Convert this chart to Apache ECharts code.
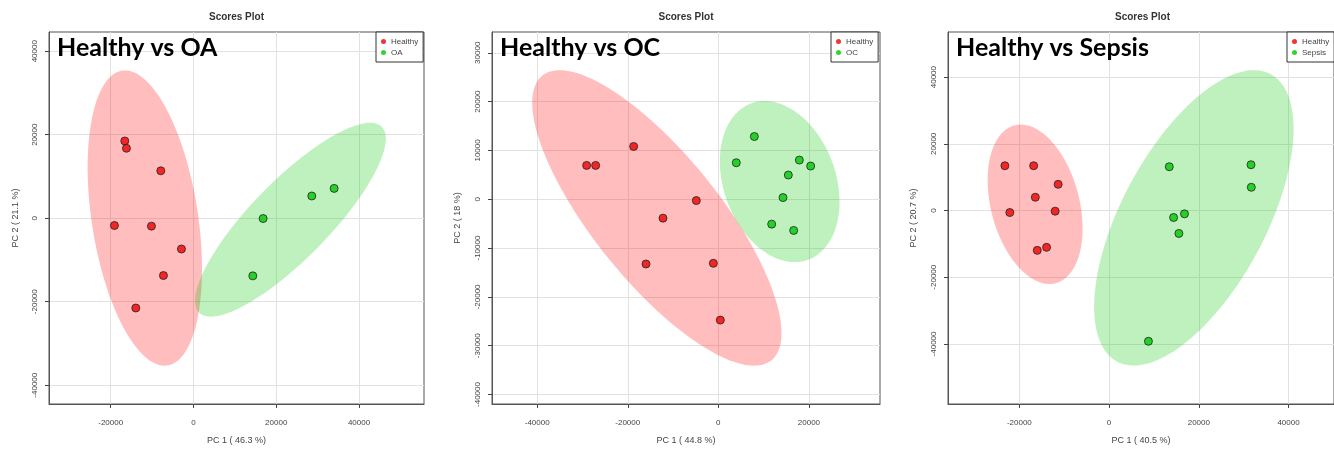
<!DOCTYPE html>
<html>
<head>
<meta charset="utf-8">
<script src="https://cdn.jsdelivr.net/npm/echarts@6/dist/echarts.min.js"></script>
<style>
html,body{margin:0;padding:0;background:#fff;}
#chart{width:1334px;height:450px;}
</style>
</head>
<body>
<div id="chart"></div>
<script>
// ---------- data ----------
const panelLabels = ['Healthy vs OA', 'Healthy vs OC', 'Healthy vs Sepsis'];
const groupNames = ['OA', 'OC', 'Sepsis'];
const plotTitle = 'Scores Plot';
const xNames = ['PC 1 ( 46.3 %)', 'PC 1 ( 44.8 %)', 'PC 1 ( 40.5 %)'];
const yNames = ['PC 2 ( 21.1 %)', 'PC 2 ( 18 %)', 'PC 2 ( 20.7 %)'];

const oaHealthy = [[-16590, 18490], [-16190, 16750], [-7890, 11350], [-19090, -1750],
  [-10150, -1900], [-2900, -7380], [-7250, -13730], [-13930, -21510]];
const oaGroup = [[16830, -80], [28590, 5320], [33990, 7140], [14340, -13810]];

const ocHealthy = [[-29080, 6930], [-27090, 6930], [-18700, 10810], [-4860, -270],
  [-12220, -3870], [-15970, -13260], [-1100, -13120], [440, -24750]];
const ocGroup = [[7950, 12850], [3970, 7480], [17890, 8020], [20390, 6800],
  [15460, 4960], [14280, 340], [11780, -5100], [16640, -6390]];

const sepsisHealthy = [[-23220, 13430], [-16810, 13430], [-11350, 7860], [-16440, 3980],
  [-22120, -600], [-12020, -200], [-16000, -11940], [-13930, -11040]];
const sepsisGroup = [[13420, 13130], [31630, 13730], [31700, 6970], [16810, -1000],
  [14380, -2090], [15560, -6870], [8770, -39200]];

// confidence ellipses: [centerX, centerY, axis1X, axis1Y, axis2X, axis2Y] (data units)
const oaHealthyEllipse = [-11750, 40, -4760, 35360, 12970, 0];
const oaGroupEllipse = [23440, -357, 19250, 23217, 12660, 0];
const ocHealthyEllipse = [-13573, -3825, -21467, 30265, 17237, 0];
const ocGroupEllipse = [13545, 3620, -3315, 16500, 12790, 0];
const sepsisHealthyEllipse = [-16486, 1865, -3194, 23905, 10085, 0];
const sepsisGroupEllipse = [18896, -2190, 13394, 44280, 17737, 0];

const xRanges = [[-34900, 55700], [-49980, 35700], [-35900, 50130]];
const yRanges = [[-44500, 44600], [-41940, 34260], [-58010, 53530]];
const xTicks = [[-20000, 0, 20000, 40000], [-40000, -20000, 0, 20000], [-20000, 0, 20000, 40000]];
const yTicks = [[-40000, -20000, 0, 20000, 40000],
  [-40000, -30000, -20000, -10000, 0, 10000, 20000, 30000],
  [-40000, -20000, 0, 20000, 40000]];

// ---------- layout / style ----------
const grids = [
  {left: 49, top: 32, width: 375, height: 374},
  {left: 492, top: 32, width: 388, height: 374},
  {left: 948, top: 32, width: 389, height: 374}
];
const legendLeft = [376, 831, 1287];
const yNameGap = [29, 30, 30];
const RED = '#f00000', GREEN = '#00c800';
const RED_FILL = 'rgba(255,0,0,0.26)', GREEN_FILL = 'rgba(0,200,0,0.25)';
const FONT = 'Liberation Sans';

const healthySets = [oaHealthy, ocHealthy, sepsisHealthy];
const groupSets = [oaGroup, ocGroup, sepsisGroup];
const healthyEll = [oaHealthyEllipse, ocHealthyEllipse, sepsisHealthyEllipse];
const groupEll = [oaGroupEllipse, ocGroupEllipse, sepsisGroupEllipse];

function ellipseRender(params, api) {
  const cx = api.value(0), cy = api.value(1), ux = api.value(2), uy = api.value(3),
    vx = api.value(4), vy = api.value(5);
  const pts = [];
  const N = 160;
  for (let i = 0; i < N; i++) {
    const t = i / N * Math.PI * 2;
    pts.push(api.coord([cx + ux * Math.cos(t) + vx * Math.sin(t), cy + uy * Math.cos(t) + vy * Math.sin(t)]));
  }
  return {type: 'polygon', shape: {points: pts}, style: {fill: api.visual('color')}};
}

const xAxis = [], yAxis = [], series = [], legend = [], graphic = [];
for (let i = 0; i < 3; i++) {
  xAxis.push({
    type: 'value', gridIndex: i, min: xRanges[i][0], max: xRanges[i][1], position: 'bottom',
    name: xNames[i], nameLocation: 'middle', nameGap: 32,
    nameTextStyle: {fontFamily: FONT, fontSize: 9, color: '#444'},
    axisLine: {show: true, onZero: false, lineStyle: {color: '#555', width: 1}},
    axisTick: {show: true, inside: false, length: 4, lineStyle: {color: '#444'}, customValues: xTicks[i]},
    axisLabel: {fontFamily: FONT, fontSize: 8, color: '#444', margin: 15, customValues: xTicks[i],
      formatter: v => String(v)},
    splitLine: {show: true, lineStyle: {color: '#e2e2e2', width: 1}}
  });
  yAxis.push({
    type: 'value', gridIndex: i, min: yRanges[i][0], max: yRanges[i][1], position: 'left',
    name: yNames[i], nameLocation: 'middle', nameGap: yNameGap[i], nameRotate: 90,
    nameTextStyle: {fontFamily: FONT, fontSize: 9, color: '#444'},
    axisLine: {show: true, onZero: false, lineStyle: {color: '#555', width: 1}},
    axisTick: {show: true, inside: false, length: 4, lineStyle: {color: '#444'}, customValues: yTicks[i]},
    axisLabel: {fontFamily: FONT, fontSize: 8, color: '#444', margin: 10, rotate: 90, customValues: yTicks[i],
      formatter: v => String(v)},
    splitLine: {show: true, lineStyle: {color: '#e2e2e2', width: 1}}
  });
  series.push({
    type: 'custom', name: 'ellipse-h-' + i, xAxisIndex: i, yAxisIndex: i, clip: true,
    renderItem: ellipseRender, data: [healthyEll[i]], itemStyle: {color: RED_FILL}, z: 1, silent: true
  });
  series.push({
    type: 'custom', name: 'ellipse-g-' + i, xAxisIndex: i, yAxisIndex: i, clip: true,
    renderItem: ellipseRender, data: [groupEll[i]], itemStyle: {color: GREEN_FILL}, z: 1, silent: true
  });
  series.push({
    type: 'scatter', name: 'Healthy', xAxisIndex: i, yAxisIndex: i, data: healthySets[i],
    symbolSize: 8, itemStyle: {color: RED, borderColor: '#222', borderWidth: 1}, z: 3
  });
  series.push({
    type: 'scatter', name: groupNames[i], xAxisIndex: i, yAxisIndex: i, data: groupSets[i],
    symbolSize: 8, itemStyle: {color: GREEN, borderColor: '#222', borderWidth: 1}, z: 3
  });
  legend.push({
    data: ['Healthy', groupNames[i]], orient: 'vertical', left: legendLeft[i], top: 32,
    padding: [5, 5, 5, 5], itemGap: 2, itemWidth: 5, itemHeight: 5, icon: 'circle',
    borderColor: '#333', borderWidth: 1, backgroundColor: '#fff',
    itemStyle: {borderWidth: 0},
    textStyle: {fontFamily: FONT, fontSize: 8, color: '#444', lineHeight: 9},
    selectedMode: false
  });
  const g = grids[i];
  graphic.push({
    type: 'text', x: g.left + g.width / 2, y: 17, z: 10,
    style: {text: plotTitle, fontFamily: FONT, fontWeight: 'bold', fontSize: 10, fill: '#333',
      textAlign: 'center', textVerticalAlign: 'middle'}
  });
  graphic.push({
    type: 'text', x: g.left + 8, y: 48, z: 10,
    style: {text: panelLabels[i], fontFamily: 'Lato', fontWeight: 'bold', fontSize: 25, fill: '#000',
      textAlign: 'left', textVerticalAlign: 'middle'}
  });
}

const chart = echarts.init(document.getElementById('chart'), null, {renderer: 'canvas'});
chart.setOption({
  animation: false,
  backgroundColor: '#fff',
  grid: grids.map(g => Object.assign({show: true, borderColor: '#555', borderWidth: 1, backgroundColor: 'transparent'}, g)),
  xAxis, yAxis, series, legend, graphic
});
</script>
</body>
</html>
